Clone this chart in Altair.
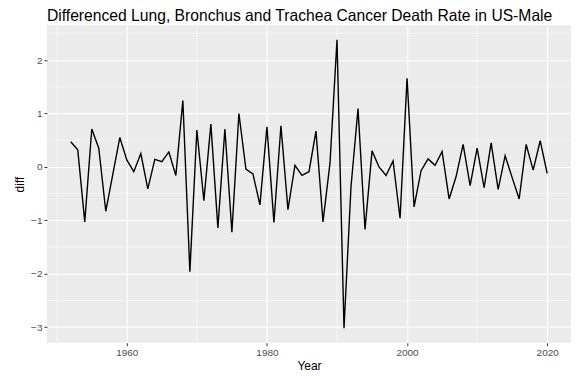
import altair as alt
import pandas as pd

years = list(range(1952, 2021))
diff = [0.47, 0.32, -1.03, 0.71, 0.35, -0.83, -0.14, 0.55, 0.13, -0.09,
        0.25, -0.41, 0.14, 0.10, 0.28, -0.16, 1.24, -1.96, 0.69, -0.63,
        0.80, -1.14, 0.71, -1.22, 1.00, -0.04, -0.13, -0.71, 0.75, -1.04,
        0.77, -0.80, 0.03, -0.16, -0.09, 0.67, -1.03, 0.07, 2.38, -3.02,
        -0.37, 1.09, -1.17, 0.30, 0.00, -0.16, 0.11, -0.96, 1.66, -0.75,
        -0.07, 0.15, 0.03, 0.29, -0.60, -0.18, 0.42, -0.35, 0.35, -0.39,
        0.45, -0.42, 0.21, -0.20, -0.60, 0.42, -0.06, 0.49, -0.12]

x_ticks = [1960, 1980, 2000, 2020]
y_ticks = [-3, -2, -1, 0, 1, 2]
x_minor = [1950, 1970, 1990, 2010]
y_minor = [-2.5, -1.5, -0.5, 0.5, 1.5, 2.5]

FONT = "Liberation Sans"

df = pd.DataFrame({"Year": years, "diff": diff})
xs = alt.Scale(domain=[1948.6, 2023.4], nice=False, zero=False)
ys = alt.Scale(domain=[-3.29, 2.65], nice=False, zero=False)

xaxis = alt.Axis(values=x_ticks, format="d", title="Year", grid=True,
                 gridColor="white", gridWidth=1.1, domain=False,
                 tickColor="#333333", tickSize=3, labelColor="#4D4D4D",
                 labelFontSize=10, labelPadding=2, titleFontSize=12,
                 titleColor="black", titleFontWeight="normal", titlePadding=3,
                 labelFont=FONT, titleFont=FONT)
yaxis = alt.Axis(values=y_ticks, format="d", title="diff", grid=True,
                 gridColor="white", gridWidth=1.1, domain=False,
                 tickColor="#333333", tickSize=3, labelColor="#4D4D4D",
                 labelFontSize=10, labelPadding=2, titleFontSize=12,
                 titleColor="black", titleFontWeight="normal", titlePadding=4,
                 labelFont=FONT, titleFont=FONT)

vminor = alt.Chart(pd.DataFrame({"v": x_minor})).mark_rule(
    color="white", strokeWidth=0.55).encode(x=alt.X("v:Q", scale=xs, axis=xaxis))
hminor = alt.Chart(pd.DataFrame({"h": y_minor})).mark_rule(
    color="white", strokeWidth=0.55).encode(y=alt.Y("h:Q", scale=ys, axis=yaxis))

line = alt.Chart(df).mark_line(color="black", strokeWidth=1.4).encode(
    x=alt.X("Year:Q", scale=xs, axis=xaxis),
    y=alt.Y("diff:Q", scale=ys, axis=yaxis),
)

chart = alt.layer(vminor, hminor, line).properties(
    width=525, height=318,
    title=alt.TitleParams(
        "Differenced Lung, Bronchus and Trachea Cancer Death Rate in US-Male",
        anchor="start", frame="group", fontSize=15.7, font=FONT,
        fontWeight="normal", color="black", offset=0),
    padding={"left": 5, "top": 0, "right": 5, "bottom": 0},
).configure_view(fill="#EBEBEB", stroke=None)

chart.save("out.html", embed_options={"renderer": "svg", "actions": False})
